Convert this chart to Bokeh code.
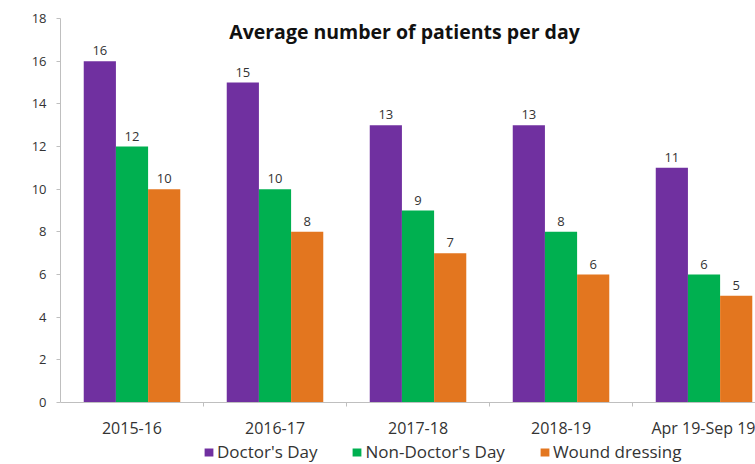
from bokeh.plotting import figure
from bokeh.models import ColumnDataSource, Range1d, FixedTicker, Label, Legend, LegendItem
from bokeh.core.properties import value
from bokeh.transform import dodge
from bokeh.embed import file_html
from bokeh.resources import INLINE

categories = ["2015-16", "2016-17", "2017-18", "2018-19", "Apr 19-Sep 19"]
doctors_day = [16, 15, 13, 13, 11]
non_doctors_day = [12, 10, 9, 8, 6]
wound_dressing = [10, 8, 7, 6, 5]
y_ticks = [0, 2, 4, 6, 8, 10, 12, 14, 16, 18]

idx = list(range(len(categories)))
src = ColumnDataSource(dict(
    x=idx, d=doctors_day, n=non_doctors_day, w=wound_dressing,
    dl=[str(v) for v in doctors_day], nl=[str(v) for v in non_doctors_day],
    wl=[str(v) for v in wound_dressing],
))

FONT = "Open Sans"
# frame spans the full height below the top border; the x axis is pinned at y=0
p = figure(width=755, height=464, output_backend="svg", toolbar_location=None,
           x_range=Range1d(-0.5, 4.36), y_range=Range1d(-2.906, 18),
           min_border_left=60, min_border_right=0, min_border_top=18, min_border_bottom=0)
p.outline_line_color = None
p.xgrid.grid_line_color = None
p.ygrid.grid_line_color = None
p.background_fill_color = "white"
p.border_fill_color = "white"

bw = 0.225
colors = ["#7030A0", "#00B050", "#E3761F"]
r1 = p.vbar(x=dodge("x", -bw, range=p.x_range), top="d", width=bw, source=src, color=colors[0], line_color=None)
r2 = p.vbar(x=dodge("x", 0, range=p.x_range), top="n", width=bw, source=src, color=colors[1], line_color=None)
r3 = p.vbar(x=dodge("x", bw, range=p.x_range), top="w", width=bw, source=src, color=colors[2], line_color=None)

for off, col in [(-bw, "d"), (0, "n"), (bw, "w")]:
    p.text(x=dodge("x", off, range=p.x_range), y=col, text=col[0] + "l", source=src,
           text_align="center", text_baseline="bottom", y_offset=-6,
           text_font_size="13px", text_color="#333333", text_font=value(FONT))

p.yaxis.ticker = FixedTicker(ticks=y_ticks)
p.yaxis.bounds = (0, 18)
p.yaxis.axis_line_color = "#BFBFBF"
p.yaxis.major_tick_line_color = "#BFBFBF"
p.yaxis.major_tick_in = 0
p.yaxis.major_tick_out = 4
p.yaxis.minor_tick_line_color = None
p.yaxis.major_label_text_font = FONT
p.yaxis.major_label_text_font_size = "13px"
p.yaxis.major_label_text_color = "#333333"
p.yaxis.major_label_standoff = 10

p.xaxis.fixed_location = 0
p.xaxis.ticker = FixedTicker(ticks=idx, minor_ticks=[i + 0.5 for i in idx])
p.xaxis.major_label_overrides = {i: c for i, c in zip(idx, categories)}
p.xaxis.axis_line_color = "#BFBFBF"
p.xaxis.major_tick_line_color = None
p.xaxis.minor_tick_line_color = "#BFBFBF"
p.xaxis.minor_tick_in = 0
p.xaxis.minor_tick_out = 4
p.xaxis.major_label_text_font = FONT
p.xaxis.major_label_text_font_size = "16px"
p.xaxis.major_label_text_color = "#333333"
p.xaxis.major_label_standoff = 8

p.add_layout(Label(x=344, y=420, x_units="screen", y_units="screen",
                   text="Average number of patients per day", text_align="center",
                   text_font=FONT, text_font_style="bold", text_font_size="19.5px",
                   text_color="#111111"))

legend = Legend(items=[LegendItem(label="Doctor's Day", renderers=[r1]),
                       LegendItem(label="Non-Doctor's Day", renderers=[r2]),
                       LegendItem(label="Wound dressing", renderers=[r3])],
                orientation="horizontal", location=(143, 1),
                label_text_font=FONT, label_text_font_size="17px", label_text_color="#333333",
                glyph_width=11, glyph_height=10, label_height=20, spacing=34, padding=0, margin=0,
                label_standoff=3, background_fill_alpha=0, border_line_color=None)
p.add_layout(legend)

open("out.html", "w").write(file_html(p, INLINE))
